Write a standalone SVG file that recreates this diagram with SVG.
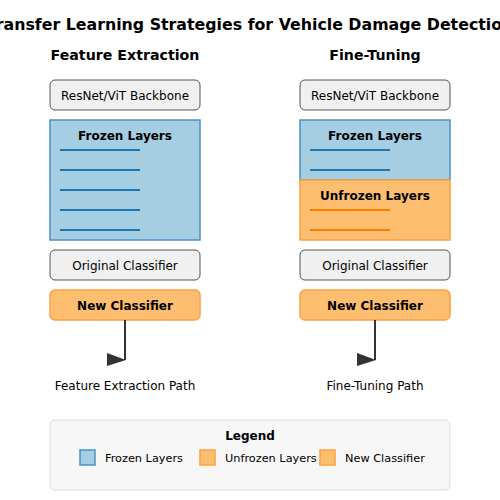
<svg xmlns="http://www.w3.org/2000/svg" width="500" height="500" viewBox="0 0 500 500">
<style>
text{font-family:"DejaVu Sans",sans-serif;fill:#000}
.t{font-size:15.8px;font-weight:bold}
.h{font-size:14.2px;font-weight:bold}
.n{font-size:12px}
.b{font-size:12px;font-weight:bold}
.l{font-size:11.3px}
.grey{fill:#f0f0f0;stroke:#555;stroke-width:1}
.froz{fill:#a6cee3;stroke:#4a90c8;stroke-width:1.5}
.unfr{fill:#fdbf6f;stroke:#ffa040;stroke-width:1.5}
.bl{stroke:#1f78b4;stroke-width:2}
.ol{stroke:#ff7f00;stroke-width:2}
.arr{stroke:#333;stroke-width:2;fill:none}
.ah{fill:#333}
</style>
<rect width="500" height="500" fill="#fff"/>
<text class="t" x="250" y="30" text-anchor="middle">Transfer Learning Strategies for Vehicle Damage Detection</text>
<text class="h" x="125" y="60" text-anchor="middle">Feature Extraction</text>
<text class="h" x="375" y="60" text-anchor="middle">Fine-Tuning</text>

<g id="fe-backbone"><rect class="grey" x="50" y="80" width="150" height="30" rx="5"/><text class="n" x="125" y="100" text-anchor="middle">ResNet/ViT Backbone</text></g>
<g id="fe-frozen"><rect class="froz" x="50" y="120" width="150" height="120"/><text class="b" x="125" y="140" text-anchor="middle">Frozen Layers</text>
<line class="bl" x1="60" y1="150" x2="140" y2="150"/><line class="bl" x1="60" y1="170" x2="140" y2="170"/><line class="bl" x1="60" y1="190" x2="140" y2="190"/><line class="bl" x1="60" y1="210" x2="140" y2="210"/><line class="bl" x1="60" y1="230" x2="140" y2="230"/></g>
<g id="fe-orig"><rect class="grey" x="50" y="250" width="150" height="30" rx="5"/><text class="n" x="125" y="270" text-anchor="middle">Original Classifier</text></g>
<g id="fe-new"><rect class="unfr" x="50" y="290" width="150" height="30" rx="5"/><text class="b" x="125" y="310" text-anchor="middle">New Classifier</text></g>
<g id="fe-path"><text class="n" x="125" y="390" text-anchor="middle">Feature Extraction Path</text></g>

<g id="ft-backbone"><rect class="grey" x="300" y="80" width="150" height="30" rx="5"/><text class="n" x="375" y="100" text-anchor="middle">ResNet/ViT Backbone</text></g>
<g id="ft-frozen"><rect class="froz" x="300" y="120" width="150" height="60"/><text class="b" x="375" y="140" text-anchor="middle">Frozen Layers</text>
<line class="bl" x1="310" y1="150" x2="390" y2="150"/><line class="bl" x1="310" y1="170" x2="390" y2="170"/></g>
<g id="ft-unfrozen"><rect class="unfr" x="300" y="180" width="150" height="60"/><text class="b" x="375" y="200" text-anchor="middle">Unfrozen Layers</text>
<line class="ol" x1="310" y1="210" x2="390" y2="210"/><line class="ol" x1="310" y1="230" x2="390" y2="230"/></g>
<g id="ft-orig"><rect class="grey" x="300" y="250" width="150" height="30" rx="5"/><text class="n" x="375" y="270" text-anchor="middle">Original Classifier</text></g>
<g id="ft-new"><rect class="unfr" x="300" y="290" width="150" height="30" rx="5"/><text class="b" x="375" y="310" text-anchor="middle">New Classifier</text></g>
<g id="ft-path"><text class="n" x="375" y="390" text-anchor="middle">Fine-Tuning Path</text></g>

<g id="connectors">
<line class="arr" x1="125" y1="320" x2="125" y2="360"/><polygon class="ah" points="107,353 126,360 107,366"/>
<line class="arr" x1="375" y1="320" x2="375" y2="360"/><polygon class="ah" points="357,353 376,360 357,366"/>
</g>

<g id="legend">
<rect x="50" y="420" width="400" height="70" rx="5" fill="#f7f7f7" stroke="#ddd" stroke-width="1"/>
<text class="b" x="250" y="440" text-anchor="middle">Legend</text>
<rect class="froz" x="80" y="450" width="15" height="15"/><text class="l" x="105" y="462">Frozen Layers</text>
<rect class="unfr" x="200" y="450" width="15" height="15"/><text class="l" x="225" y="462">Unfrozen Layers</text>
<rect class="unfr" x="320" y="450" width="15" height="15"/><text class="l" x="345" y="462">New Classifier</text>
</g>
</svg>
